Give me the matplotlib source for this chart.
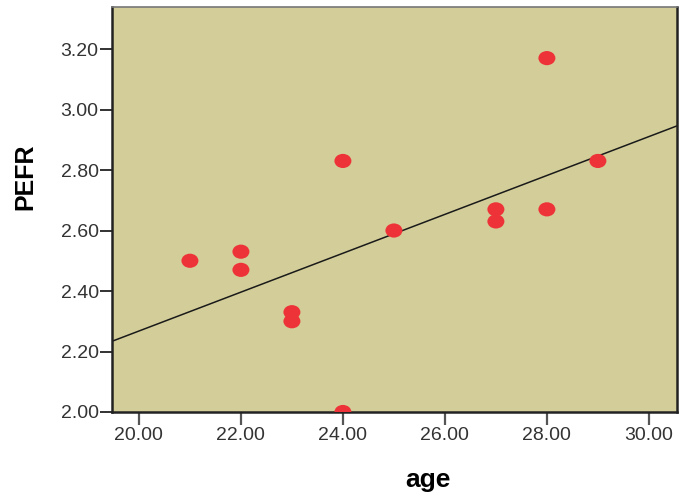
import matplotlib
matplotlib.use("Agg")
import matplotlib.pyplot as plt
import numpy as np
from matplotlib.path import Path
from matplotlib.transforms import Affine2D

age = [21, 22, 22, 23, 23, 24, 24, 25, 27, 27, 28, 28, 29]
pefr = [2.50, 2.53, 2.47, 2.33, 2.30, 2.83, 2.00, 2.60, 2.67, 2.63, 3.17, 2.67, 2.83]
x_ticks = [20, 22, 24, 26, 28, 30]
y_ticks = [2.0, 2.2, 2.4, 2.6, 2.8, 3.0, 3.2]

plt.rcParams["font.family"] = ["Liberation Sans", "DejaVu Sans"]

fig = plt.figure(figsize=(6.95, 5.0), dpi=100)
ax = fig.add_axes([0.161, 0.176, 0.813, 0.81])
ax.set_facecolor("#d3ce99")

xlim = (19.47, 30.55)
ax.set_xlim(*xlim)
ax.set_ylim(2.0, 3.339)

# least squares fit line
slope, intercept = np.polyfit(age, pefr, 1)
xs = np.array(xlim)
ax.plot(xs, slope * xs + intercept, color="#1a1a1a", linewidth=1.1, zorder=2)

oval = Affine2D().scale(1.2, 1.0).transform_path(Path.unit_circle())
ax.scatter(age, pefr, s=150, marker=oval, color="#ee3338",
           edgecolors="none", zorder=3)

ax.set_xticks(x_ticks)
ax.set_xticklabels([f"{v:.2f}" for v in x_ticks])
ax.set_yticks(y_ticks)
ax.set_yticklabels([f"{v:.2f}" for v in y_ticks])
ax.tick_params(axis="both", direction="out", length=9,
               labelsize=14, labelcolor="#333333")
ax.tick_params(axis="x", pad=2, width=1.6, color="#555555")
ax.tick_params(axis="y", pad=0.5, width=1.3, color="#222222")

for side in ["left", "bottom", "right"]:
    ax.spines[side].set_linewidth(1.8)
    ax.spines[side].set_color("#222222")
ax.spines["top"].set_linewidth(1.2)
ax.spines["top"].set_color("#777777")

ax.set_xlabel("age", fontsize=19, fontweight="bold")
ax.xaxis.label.set_va("baseline")
ax.xaxis.set_label_coords(0.559, -0.185)
ax.set_ylabel("PEFR", fontsize=18, fontweight="bold")
ax.yaxis.label.set_va("baseline")
ax.yaxis.set_label_coords(-0.14, 0.58)

fig.savefig("out.png", dpi=100)
